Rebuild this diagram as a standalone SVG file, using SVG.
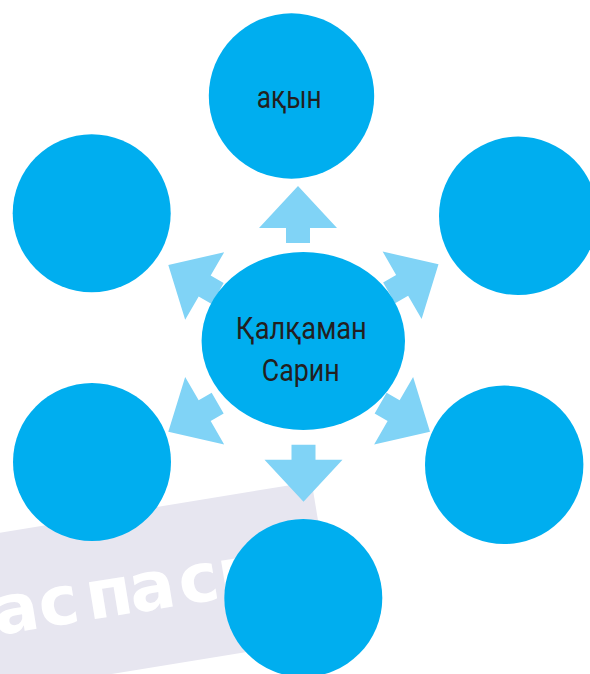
<svg xmlns="http://www.w3.org/2000/svg" width="590" height="674" viewBox="0 0 590 674">
<style>
.node{fill:#00AEEF}
.arrow{fill:#80D3F6}
.lbl{font-family:"Roboto","Liberation Sans",sans-serif;font-size:31px;fill:#231F20;text-anchor:middle}
.wm{font-family:"DejaVu Sans","Open Sans",sans-serif;font-weight:bold;font-size:68px;fill:#FFFFFF}
</style>
<defs>
<path id="arr" d="M0 0 L39 42 L12 42 L12 57 L-12 57 L-12 42 L-39 42 Z"/>
</defs>
<rect width="590" height="674" fill="#FFFFFF"/>
<g id="watermark" transform="translate(0,532.7) rotate(-9.3)">
<rect x="-60" y="0" width="375.8" height="157.5" fill="#E7E6F0"/>
<text class="wm" x="-20 26 74 118 168 208" y="100.7">аспасп</text>
</g>
<g id="connectors">
<use href="#arr" class="arrow" transform="translate(298,186)"/>
<use href="#arr" class="arrow" transform="translate(303.5,501.7) rotate(180)"/>
<use href="#arr" class="arrow" transform="translate(168.3,265) rotate(-60)"/>
<use href="#arr" class="arrow" transform="translate(438.5,264.3) rotate(60)"/>
<use href="#arr" class="arrow" transform="translate(430,431.7) rotate(120)"/>
<use href="#arr" class="arrow" transform="translate(168.3,431.7) rotate(-120)"/>
</g>
<g id="center">
<ellipse class="node" cx="303.3" cy="341" rx="101.7" ry="89"/>
<text class="lbl" x="301.3" y="339.3" textLength="131" lengthAdjust="spacingAndGlyphs">Қалқаман</text>
<text class="lbl" x="300.8" y="381" textLength="78" lengthAdjust="spacingAndGlyphs">Сарин</text>
</g>
<g id="top">
<circle class="node" cx="291.5" cy="96" r="82.7"/>
<text class="lbl" x="289.2" y="108.3" textLength="65" lengthAdjust="spacingAndGlyphs">ақын</text>
</g>
<g id="upper-left"><circle class="node" cx="91.7" cy="213.2" r="79"/></g>
<g id="upper-right"><circle class="node" cx="518.2" cy="215.8" r="79.2"/></g>
<g id="lower-left"><circle class="node" cx="92" cy="462" r="79"/></g>
<g id="lower-right"><circle class="node" cx="504.2" cy="464.8" r="79.2"/></g>
<g id="bottom"><circle class="node" cx="303.3" cy="598" r="79"/></g>
</svg>
